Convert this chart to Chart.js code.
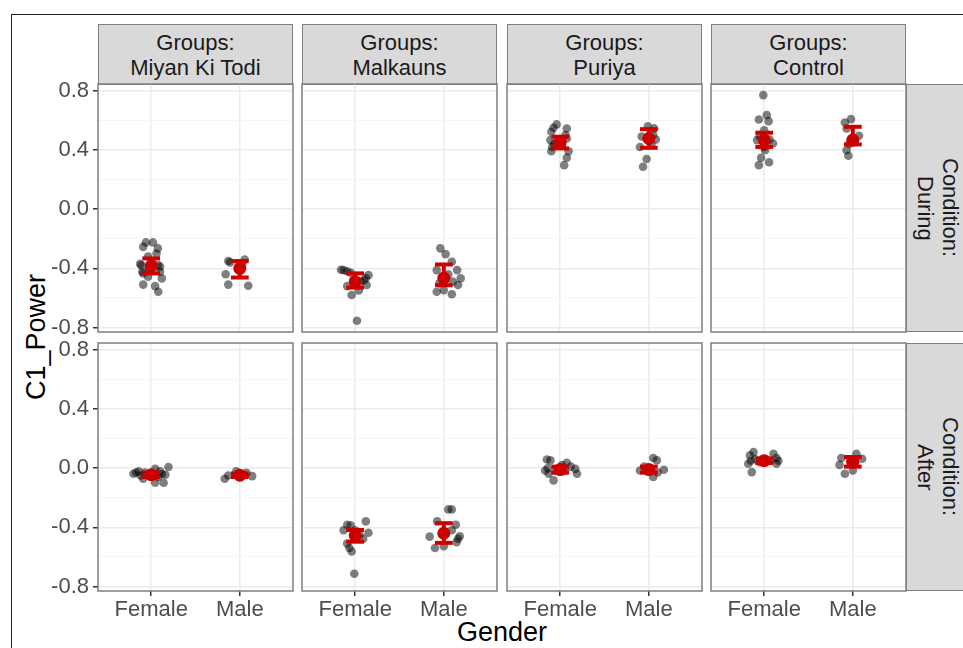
<!DOCTYPE html>
<html>
<head>
<meta charset="utf-8">
<script src="https://cdn.jsdelivr.net/npm/chart.js@4.4.0/dist/chart.umd.min.js"></script>
<style>
html, body { margin: 0; padding: 0; background: #fff; overflow: hidden; }
#fig { position: relative; width: 963px; height: 648px; overflow: hidden; font-family: "Liberation Sans", Arial, sans-serif; }
.frame { position: absolute; left: 11px; top: 14px; width: 1000px; height: 700px; border: 1px solid #222; }
.strip { position: absolute; background: #d9d9d9; border: 1.5px solid #7f7f7f; box-sizing: border-box; color: #1a1a1a;
  font-size: 22px; line-height: 25px; display: flex; align-items: center; justify-content: center; text-align: center; }
.strip.row span { writing-mode: vertical-rl; }
.title { position: absolute; color: #000; font-size: 27px; white-space: nowrap; transform: translate(-50%, -50%); }
canvas { position: absolute; }
</style>
</head>
<body>
<div id="fig"><div class="frame"></div></div>
<script>
// categories
const groups = ['Miyan Ki Todi', 'Malkauns', 'Puriya', 'Control']
const conditions = ['During', 'After']
const genders = ['Female', 'Male']

// y axis
const yMajor = [-0.8, -0.4, 0, 0.4, 0.8]
const yMinor = [-0.6, -0.2, 0.2, 0.6]
const yRange = [-0.83, 0.845]

// jittered observations: [offset from gender position, C1_Power]
const duringMiyanFemale = [[-0.06,-0.225],[0.02,-0.225],[-0.09,-0.255],[0.075,-0.265],[-0.035,-0.32],[0.06,-0.30],[-0.125,-0.37],[-0.11,-0.38],[0.10,-0.39],[0.08,-0.378],[-0.10,-0.423],[0.10,-0.423],[-0.02,-0.40],[-0.09,-0.435],[-0.035,-0.457],[0.12,-0.468],[-0.09,-0.51],[0.045,-0.52],[0.08,-0.558],[0.01,-0.36]]
const duringMiyanMale = [[-0.13,-0.35],[-0.11,-0.36],[0.055,-0.34],[-0.16,-0.44],[-0.13,-0.51],[0.095,-0.518],[0.0,-0.40],[0.03,-0.37]]
const duringMalkaunsFemale = [[-0.13,-0.412],[-0.16,-0.41],[-0.09,-0.42],[-0.05,-0.43],[0.15,-0.446],[0.10,-0.48],[0.12,-0.465],[-0.09,-0.52],[-0.04,-0.58],[0.04,-0.55],[0.13,-0.513],[0.0,-0.50],[0.06,-0.49],[0.02,-0.754]]
const duringMalkaunsMale = [[-0.04,-0.265],[0.02,-0.304],[0.09,-0.356],[-0.08,-0.412],[0.15,-0.412],[0.19,-0.468],[0.16,-0.513],[-0.08,-0.558],[0.0,-0.547],[0.09,-0.575],[-0.05,-0.50],[0.05,-0.44],[0.10,-0.49]]
const duringPuriyaFemale = [[-0.04,0.572],[-0.075,0.549],[-0.10,0.522],[0.075,0.544],[0.075,0.477],[-0.11,0.466],[-0.07,0.44],[0.02,0.43],[-0.09,0.42],[-0.10,0.391],[0.095,0.391],[0.075,0.347],[0.045,0.297],[0.06,0.50],[-0.02,0.46]]
const duringPuriyaMale = [[-0.01,0.56],[0.06,0.545],[0.05,0.50],[-0.08,0.49],[-0.10,0.42],[0.03,0.44],[-0.025,0.338],[-0.065,0.286],[0.08,0.47]]
const duringControlFemale = [[-0.01,0.77],[0.03,0.635],[-0.06,0.605],[0.05,0.594],[0.0,0.533],[-0.05,0.49],[-0.08,0.466],[0.06,0.47],[0.10,0.443],[0.0,0.42],[0.01,0.398],[-0.035,0.347],[0.055,0.316],[-0.06,0.297]]
const duringControlMale = [[-0.02,0.608],[-0.09,0.585],[-0.07,0.544],[0.07,0.495],[0.0,0.46],[-0.04,0.44],[-0.07,0.398],[-0.05,0.36]]

const afterMiyanFemale = [[-0.20,-0.038],[-0.17,-0.03],[-0.14,-0.022],[-0.09,-0.072],[-0.07,-0.03],[-0.03,-0.05],[0.045,-0.005],[0.045,-0.099],[0.14,-0.099],[0.195,0.007],[0.16,-0.045],[0.10,-0.022],[0.08,-0.06],[0.12,-0.04],[-0.12,-0.05]]
const afterMiyanMale = [[-0.17,-0.072],[-0.13,-0.05],[-0.04,-0.022],[0.0,-0.06],[0.075,-0.032],[0.14,-0.054],[0.04,-0.045]]
const afterMalkaunsFemale = [[-0.09,-0.383],[-0.05,-0.387],[0.12,-0.36],[-0.13,-0.42],[0.0,-0.42],[0.15,-0.437],[0.09,-0.477],[0.05,-0.45],[-0.09,-0.51],[-0.065,-0.54],[-0.04,-0.563],[-0.01,-0.713]]
const afterMalkaunsMale = [[0.05,-0.279],[0.09,-0.279],[-0.075,-0.36],[0.135,-0.383],[0.09,-0.42],[-0.16,-0.463],[0.18,-0.46],[0.16,-0.477],[0.145,-0.50],[-0.10,-0.54],[0.0,-0.527],[-0.02,-0.44]]
const afterPuriyaFemale = [[-0.15,0.058],[-0.11,0.052],[-0.14,0.0],[-0.17,-0.016],[-0.13,-0.038],[-0.075,-0.083],[-0.05,-0.02],[0.02,0.02],[0.075,0.036],[0.12,0.01],[0.17,-0.005],[0.19,-0.038],[0.05,-0.02]]
const afterPuriyaMale = [[0.05,0.068],[0.09,0.052],[0.17,-0.011],[-0.10,-0.016],[0.05,-0.06],[-0.01,0.0],[0.10,-0.03],[-0.05,0.01]]
const afterControlFemale = [[-0.12,0.108],[-0.16,0.086],[-0.18,0.029],[-0.15,0.05],[-0.14,-0.027],[-0.10,0.06],[-0.05,0.04],[0.03,0.05],[0.105,0.097],[0.14,0.068],[0.14,0.029],[0.07,0.05],[0.16,0.05]]
const afterControlMale = [[-0.13,0.068],[0.04,0.097],[0.105,0.063],[-0.15,0.022],[-0.09,-0.038],[0.0,-0.016],[-0.03,0.05]]

// summary per group: [Female, Male]
const duringMean = [[-0.385,-0.40],[-0.49,-0.466],[0.45,0.477],[0.466,0.466]]
const duringLow  = [[-0.434,-0.462],[-0.53,-0.514],[0.41,0.414],[0.42,0.437]]
const duringHigh = [[-0.333,-0.351],[-0.434,-0.374],[0.489,0.54],[0.516,0.556]]
const afterMean  = [[-0.045,-0.048],[-0.455,-0.44],[-0.01,-0.01],[0.05,0.04]]
const afterLow   = [[-0.06,-0.06],[-0.497,-0.505],[-0.03,-0.03],[0.035,0.01]]
const afterHigh  = [[-0.03,-0.036],[-0.418,-0.372],[0.01,0.01],[0.065,0.075]]

const points = [
	[[duringMiyanFemale, duringMiyanMale], [duringMalkaunsFemale, duringMalkaunsMale], [duringPuriyaFemale, duringPuriyaMale], [duringControlFemale, duringControlMale]],
	[[afterMiyanFemale, afterMiyanMale], [afterMalkaunsFemale, afterMalkaunsMale], [afterPuriyaFemale, afterPuriyaMale], [afterControlFemale, afterControlMale]]
]
const means = [duringMean, afterMean]
const lows = [duringLow, afterLow]
const highs = [duringHigh, afterHigh]

// layout
const colLeft = [98, 302, 507, 711]
const rowTop = [84, 343]
const panelW = 195
const panelH = 248
const M = 14
const yW = 50
const xH = 40
const red = '#cd0000'

Chart.defaults.font.family = '"Liberation Sans", Arial, sans-serif'

const fig = document.querySelector('#fig')

const isMajor = v => yMajor.some(m => Math.abs(m - v) < 1e-9)
const fmt = v => (Math.abs(v) < 1e-9 ? 0 : v).toFixed(1)

const panelBorder = {
	id: 'panelBorder',
	afterDatasetsDraw(chart) {
		const { ctx, chartArea: a } = chart
		ctx.save()
		ctx.strokeStyle = '#7f7f7f'
		ctx.lineWidth = 1.5
		ctx.strokeRect(a.left, a.top, a.width, a.height)
		ctx.restore()
	}
}

const addDiv = (cls, html, css) => {
	const d = document.createElement('div')
	d.className = cls
	d.innerHTML = html
	Object.assign(d.style, css)
	fig.append(d)
	return d
}

// column strips
groups.forEach((g, c) => {
	addDiv('strip', `<span>Groups:<br>${g}</span>`, {
		left: colLeft[c] + 'px', top: '24px', width: panelW + 'px', height: '61px'
	})
})

// row strips
conditions.forEach((cond, r) => {
	addDiv('strip row', `<span>Condition:<br>${cond}</span>`, {
		left: (colLeft[3] + panelW) + 'px', top: rowTop[r] + 'px', width: '64px', height: panelH + 'px'
	})
})

addDiv('title', 'C1_Power', { left: '36px', top: '337px', transform: 'translate(-50%, -50%) rotate(-90deg)' })
addDiv('title', 'Gender', { left: '502px', top: '632px' })

for (let r = 0; r < 2; r++) {
	for (let c = 0; c < 4; c++) {
		const padL = c === 0 ? yW : 0
		const padB = r === 1 ? xH : 0
		const canvas = document.createElement('canvas')
		canvas.width = M + padL + panelW + M
		canvas.height = M + panelH + padB + M
		canvas.style.left = (colLeft[c] - M - padL) + 'px'
		canvas.style.top = (rowTop[r] - M) + 'px'
		fig.append(canvas)

		const datasets = []
		genders.forEach((g, gi) => {
			const x0 = gi + 1
			const lo = lows[r][c][gi], hi = highs[r][c][gi]
			datasets.push({
				data: [{ x: x0, y: means[r][c][gi] }],
				backgroundColor: red, borderWidth: 0, pointRadius: 6.5, order: 1
			})
			const bar = [
				[{ x: x0, y: lo }, { x: x0, y: hi }],
				[{ x: x0 - 0.1, y: lo }, { x: x0 + 0.1, y: lo }],
				[{ x: x0 - 0.1, y: hi }, { x: x0 + 0.1, y: hi }]
			]
			bar.forEach(seg => datasets.push({
				data: seg, showLine: true, borderColor: red, borderWidth: 4,
				pointRadius: 0, borderCapStyle: 'butt', order: 2
			}))
			datasets.push({
				data: points[r][c][gi].map(([j, v]) => ({ x: x0 + j, y: v })),
				backgroundColor: 'rgba(0,0,0,0.5)', borderWidth: 0, pointRadius: 4.3, order: 3
			})
		})

		new Chart(canvas, {
			type: 'scatter',
			data: { datasets },
			plugins: [panelBorder],
			options: {
				responsive: false,
				animation: false,
				events: [],
				layout: { padding: M },
				plugins: { legend: { display: false }, tooltip: { enabled: false } },
				scales: {
					x: {
						type: 'linear', min: 0.4, max: 2.6,
						afterBuildTicks: s => { s.ticks = [1, 2].map(v => ({ value: v })) },
						afterFit: s => { s.height = padB; s.paddingLeft = 0; s.paddingRight = 0 },
						border: { display: false },
						grid: { color: '#ebebeb', lineWidth: 1.5, drawTicks: r === 1, tickLength: 5, tickColor: '#333', tickWidth: 1.5 },
						ticks: {
							display: r === 1, autoSkip: false, maxRotation: 0, padding: 1,
							color: '#4d4d4d', font: { size: 22 },
							callback: v => genders[Math.round(v) - 1]
						}
					},
					y: {
						type: 'linear', min: yRange[0], max: yRange[1],
						afterBuildTicks: s => { s.ticks = [...yMajor, ...yMinor].sort((a, b) => a - b).map(v => ({ value: v })) },
						afterFit: s => { s.width = padL; s.paddingTop = 0; s.paddingBottom = 0 },
						border: { display: false },
						grid: {
							color: ctx => isMajor(ctx.tick.value) ? '#ebebeb' : '#f5f5f5',
							lineWidth: ctx => isMajor(ctx.tick.value) ? 1.5 : 1,
							drawTicks: c === 0, tickLength: 5, tickWidth: 1.5,
							tickColor: ctx => isMajor(ctx.tick.value) ? '#333' : 'rgba(0,0,0,0)'
						},
						ticks: {
							display: c === 0, autoSkip: false, padding: 4,
							color: '#4d4d4d', font: { size: 22 },
							callback: v => isMajor(v) ? fmt(v) : ''
						}
					}
				}
			}
		})
	}
}
</script>
</body>
</html>
